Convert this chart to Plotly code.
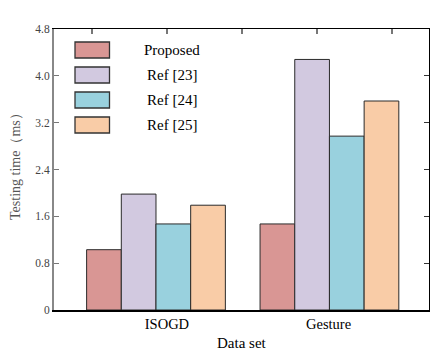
import plotly.graph_objects as go

categories = ["ISOGD", "Gesture"]
series_names = ["Proposed", "Ref [23]", "Ref [24]", "Ref [25]"]
values = {
    "Proposed": [1.03, 1.47],
    "Ref [23]": [1.98, 4.28],
    "Ref [24]": [1.47, 2.97],
    "Ref [25]": [1.79, 3.57],
}
colors = ["#D99694", "#D2C9E0", "#99D1DE", "#F9CCA7"]
y_ticks = [0, 0.8, 1.6, 2.4, 3.2, 4.0, 4.8]
y_ticktext = ["0", "0.8", "1.6", "2.4", "3.2", "4.0", "4.8"]
x_title = "Data set"
y_title = "Testing time（ms）"

FONT = "Liberation Serif"
xpos = list(range(len(categories)))

fig = go.Figure()
for name, col in zip(series_names, colors):
    fig.add_trace(go.Bar(
        x=xpos, y=values[name], name=name,
        marker=dict(color=col, line=dict(color="#2a2a2a", width=1)),
        showlegend=False,
    ))
# helper trace so the mirrored top/right axes are drawn
fig.add_trace(go.Scatter(x=[0], y=[0], xaxis="x2", yaxis="y2", mode="markers",
                         marker=dict(opacity=0), showlegend=False, hoverinfo="skip"))

xr = [-0.588, 1.574]
fig.update_layout(
    width=442, height=353,
    margin=dict(l=54, r=13, t=29, b=43),
    paper_bgcolor="white", plot_bgcolor="white",
    barmode="group", bargap=0.2, bargroupgap=0,
    font=dict(family=FONT, size=12, color="#000"),
    xaxis=dict(range=xr, tickmode="array", tickvals=[0.063, 0.995], ticktext=categories,
               showgrid=False, zeroline=False, showline=True, linecolor="#000", linewidth=2,
               ticks="", tickfont=dict(family=FONT, size=14.5, color="#000"), automargin=False),
    yaxis=dict(range=[0, 4.8], tickmode="array", tickvals=y_ticks, ticktext=y_ticktext,
               showgrid=False, zeroline=False, showline=True, linecolor="#888", linewidth=2,
               ticks="inside", ticklen=5, tickcolor="#777", tickwidth=1,
               tickfont=dict(family=FONT, size=11.5, color="#444"), automargin=False),
    xaxis2=dict(range=xr, overlaying="x", side="top", anchor="y2", showgrid=False, zeroline=False,
                showline=True, linecolor="#000", linewidth=1, ticks="inside", ticklen=5,
                tickcolor="#777", tickwidth=1.5, tick0=-0.369, dtick=0.4318, showticklabels=False),
    yaxis2=dict(range=[0, 4.8], overlaying="y", side="right", anchor="x2", showgrid=False,
                zeroline=False, showline=True, linecolor="#000", linewidth=1, ticks="inside",
                ticklen=5, tickcolor="#333", tickvals=y_ticks, showticklabels=False),
)

plot_l, plot_w, plot_t, plot_h = 54, 375, 29, 281
def px_to_paper_x(px):
    return (px - plot_l) / plot_w
def px_to_paper_y(py):
    return (plot_t + plot_h - py) / plot_h

# axis titles
fig.add_annotation(xref="paper", yref="paper", x=px_to_paper_x(241.5), y=px_to_paper_y(343),
                   text=x_title, showarrow=False, xanchor="center", yanchor="middle",
                   font=dict(family=FONT, size=15, color="#000"))
fig.add_annotation(xref="paper", yref="paper", x=px_to_paper_x(15), y=px_to_paper_y(163),
                   text=y_title, showarrow=False, xanchor="center", yanchor="middle", textangle=-90,
                   font=dict(family=FONT, size=14, color="#555"))

# custom legend (large swatches, text to the right)
for i, (name, col) in enumerate(zip(series_names, colors)):
    cy = 50 + 25 * i
    fig.add_shape(type="rect", xref="paper", yref="paper",
                  x0=px_to_paper_x(75), x1=px_to_paper_x(109.5),
                  y0=px_to_paper_y(cy + 8), y1=px_to_paper_y(cy - 8),
                  fillcolor=col, line=dict(color="#333", width=1.3))
    fig.add_annotation(xref="paper", yref="paper", x=px_to_paper_x(172), y=px_to_paper_y(cy),
                       text=name, showarrow=False, xanchor="center", yanchor="middle",
                       font=dict(size=15, color="#000", family=FONT))

fig.write_html("out.html")
